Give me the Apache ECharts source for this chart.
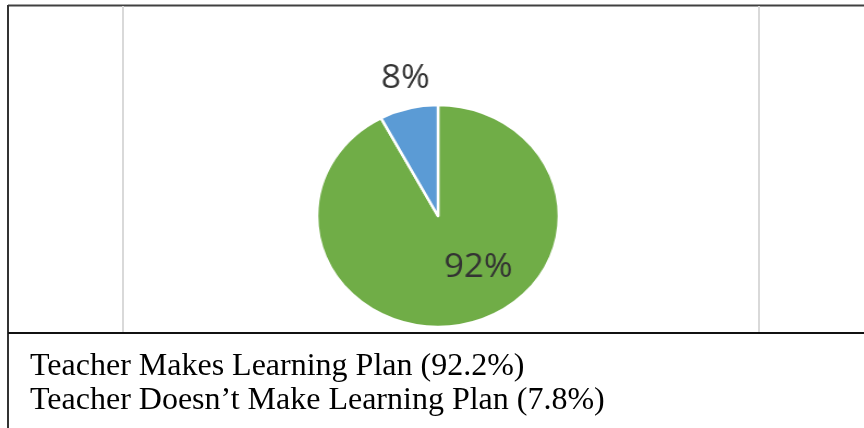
<!DOCTYPE html>
<html>
<head>
<meta charset="utf-8">
<script src="https://cdn.jsdelivr.net/npm/echarts@6/dist/echarts.min.js"></script>
<style>
html,body{margin:0;padding:0;background:#fff;}
#wrap{position:relative;width:864px;height:428px;overflow:hidden;}
#bg{position:absolute;left:0;top:0;width:864px;height:428px;}
#pie{position:absolute;left:238px;top:16px;width:400px;height:400px;transform:scaleX(1.09);transform-origin:200px 200px;}
</style>
</head>
<body>
<div id="wrap"><div id="bg"></div><div id="pie"></div></div>
<script>
const categories = ['Teacher Makes Learning Plan', 'Teacher Doesn\u2019t Make Learning Plan'];
const values = [92.2, 7.8];
const colors = ['#70AD47', '#5B9BD5'];

const bg = echarts.init(document.getElementById('bg'), null, {renderer: 'canvas'});
const lineText = categories.map((c, i) => c + ' (' + values[i] + '%)');
bg.setOption({
  animation: false,
  graphic: [
    {type: 'line', shape: {x1: 8, y1: 5.5, x2: 864, y2: 5.5}, style: {stroke: '#404040', lineWidth: 2}},
    {type: 'line', shape: {x1: 8, y1: 5, x2: 8, y2: 428}, style: {stroke: '#333', lineWidth: 2}},
    {type: 'line', shape: {x1: 123, y1: 6, x2: 123, y2: 333}, style: {stroke: '#d9d9d9', lineWidth: 2}},
    {type: 'line', shape: {x1: 759, y1: 6, x2: 759, y2: 333}, style: {stroke: '#d9d9d9', lineWidth: 2}},
    {type: 'line', shape: {x1: 8, y1: 333, x2: 864, y2: 333}, style: {stroke: '#111', lineWidth: 2}},
    {type: 'text', left: 30, top: 351, style: {text: lineText[0], font: '32px "Liberation Serif", "Times New Roman", serif', fill: '#000'}},
    {type: 'text', left: 30, top: 385, style: {text: lineText[1], font: '32px "Liberation Serif", "Times New Roman", serif', fill: '#000'}}
  ]
});

const pie = echarts.init(document.getElementById('pie'), null, {renderer: 'canvas'});
const labelPos = [[237, 252], [170, 63]];
pie.setOption({
  animation: false,
  series: [{
    type: 'pie',
    center: [200, 200],
    radius: 111,
    startAngle: 90,
    clockwise: true,
    data: categories.map((c, i) => ({name: c, value: values[i], itemStyle: {color: colors[i]}})),
    itemStyle: {borderColor: '#fff', borderWidth: 2.5},
    label: {
      show: true,
      position: 'inside',
      formatter: p => Math.round(p.value) + '%',
      fontFamily: '"Open Sans", "Noto Sans", sans-serif',
      fontSize: 32,
      color: '#333333'
    },
    labelLine: {show: false},
    labelLayout: function (p) {
      return {x: labelPos[p.dataIndex][0], y: labelPos[p.dataIndex][1], align: 'center', verticalAlign: 'middle'};
    },
    emphasis: {disabled: true}
  }]
});
</script>
</body>
</html>
